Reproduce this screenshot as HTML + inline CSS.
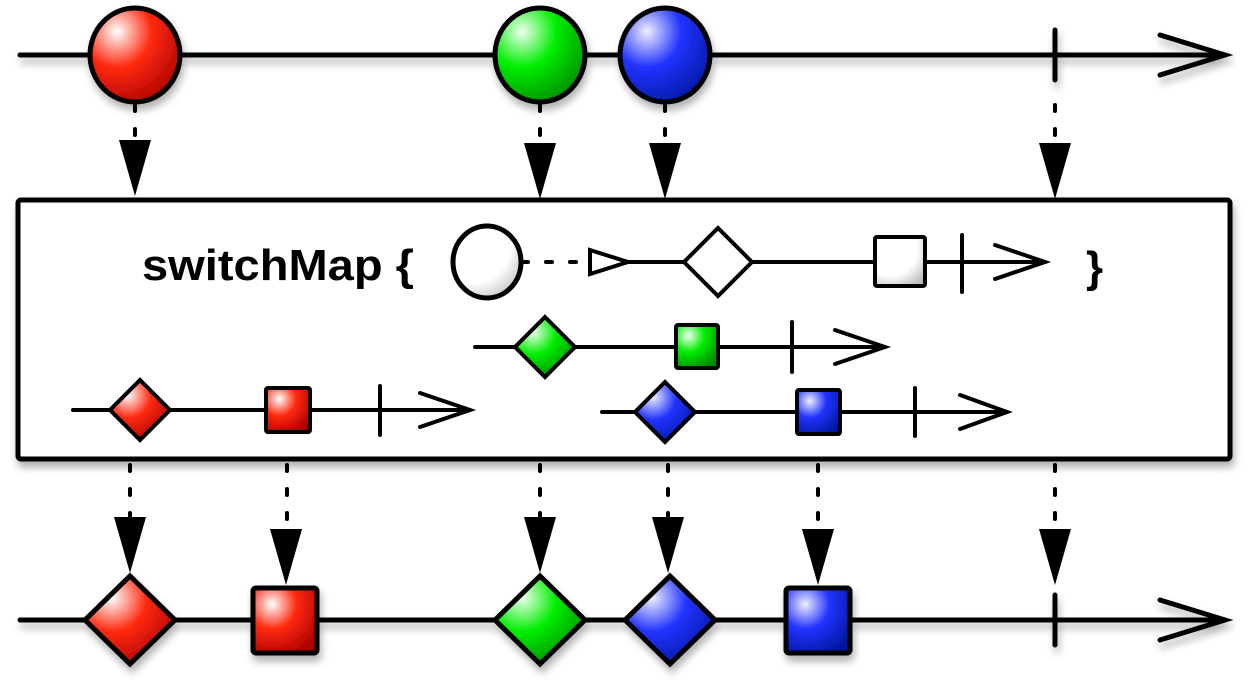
<!DOCTYPE html>
<html><head><meta charset="utf-8"><style>html,body{margin:0;padding:0;background:#fff}svg{display:block}</style></head><body>
<svg width="1249" height="688" viewBox="0 0 1249 688" xmlns="http://www.w3.org/2000/svg">
<defs>
<radialGradient id="r" cx="0.3" cy="0.25" r="0.85"><stop offset="0" stop-color="#fff"/><stop offset="0.45" stop-color="#ff2a10"/><stop offset="1" stop-color="#a00"/></radialGradient>
<radialGradient id="g" cx="0.3" cy="0.25" r="0.85"><stop offset="0" stop-color="#efe"/><stop offset="0.45" stop-color="#0e0"/><stop offset="1" stop-color="#080"/></radialGradient>
<radialGradient id="b" cx="0.3" cy="0.25" r="0.85"><stop offset="0" stop-color="#eef"/><stop offset="0.45" stop-color="#2233ff"/><stop offset="1" stop-color="#0018a0"/></radialGradient>
<radialGradient id="w" cx="0.3" cy="0.25" r="0.9"><stop offset="0" stop-color="#fff"/><stop offset="0.6" stop-color="#fff"/><stop offset="1" stop-color="#bbb"/></radialGradient>
<filter id="sh" x="-10%" y="-10%" width="120%" height="130%"><feDropShadow dx="2" dy="6" stdDeviation="4" flood-color="#000" flood-opacity="0.3"/></filter>
</defs>
<g stroke="#000" stroke-linecap="round" fill="none">
<g filter="url(#sh)">
<line x1="20" y1="55" x2="1225" y2="55" stroke-width="5"/>
<polyline points="1160,35 1225,55 1160,75" stroke-width="5"/>
<line x1="1055" y1="30" x2="1055" y2="80" stroke-width="5"/>
<ellipse cx="135" cy="55" rx="45" ry="47" fill="url(#r)" stroke-width="5"/>
<ellipse cx="540" cy="55" rx="45" ry="47" fill="url(#g)" stroke-width="5"/>
<ellipse cx="665" cy="55" rx="45" ry="47" fill="url(#b)" stroke-width="5"/>
</g>
<g stroke-width="4" stroke-dasharray="6,18">
<line x1="135" y1="105" x2="135" y2="140"/>
<line x1="540" y1="105" x2="540" y2="140"/>
<line x1="665" y1="105" x2="665" y2="140"/>
<line x1="1055" y1="105" x2="1055" y2="140"/>
</g>
<g fill="#000" stroke="none">
<polygon points="119,140 151,140 135,196"/>
<polygon points="524,143 556,143 540,199"/>
<polygon points="649,143 681,143 665,199"/>
<polygon points="1039,143 1071,143 1055,199"/>
</g>
<rect x="18" y="200" width="1212" height="259" rx="3" fill="#fff" stroke-width="5" filter="url(#sh)"/>
<ellipse cx="487" cy="262" rx="34" ry="36" fill="url(#w)" stroke-width="5"/>
<line x1="522" y1="262" x2="590" y2="262" stroke-width="4" stroke-dasharray="6,18"/>
<polygon points="590,250 628,262 590,274" stroke-width="4" fill="#fff"/>
<line x1="628" y1="262" x2="1045" y2="262" stroke-width="4"/>
<polyline points="995,245 1045,262 995,279" stroke-width="4"/>
<line x1="962" y1="235" x2="962" y2="292" stroke-width="4"/>
<polygon points="718,228 752,262 718,296 684,262" fill="#fff" stroke-width="4"/>
<rect x="875" y="237" width="50" height="49" rx="2" fill="url(#w)" stroke-width="4"/>
<line x1="475" y1="347" x2="885" y2="347" stroke-width="4"/>
<polyline points="835,330 885,347 835,364" stroke-width="4"/>
<line x1="792" y1="322" x2="792" y2="372" stroke-width="4"/>
<polygon points="545,317 575,347 545,377 515,347" fill="url(#g)" stroke-width="4"/>
<rect x="676" y="325" width="42" height="43" rx="2" fill="url(#g)" stroke-width="4"/>
<line x1="73" y1="410" x2="470" y2="410" stroke-width="4"/>
<polyline points="420,393 470,410 420,427" stroke-width="4"/>
<line x1="380" y1="386" x2="380" y2="435" stroke-width="4"/>
<polygon points="140,380 170,410 140,440 110,410" fill="url(#r)" stroke-width="4"/>
<rect x="266" y="388" width="44" height="44" rx="2" fill="url(#r)" stroke-width="4"/>
<line x1="602" y1="412" x2="1007" y2="412" stroke-width="4"/>
<polyline points="960,395 1007,412 960,429" stroke-width="4"/>
<line x1="915" y1="388" x2="915" y2="436" stroke-width="4"/>
<polygon points="665,382 695,412 665,442 635,412" fill="url(#b)" stroke-width="4"/>
<rect x="797" y="390" width="43" height="44" rx="2" fill="url(#b)" stroke-width="4"/>
<g stroke-width="4" stroke-dasharray="6,18">
<line x1="130" y1="465" x2="130" y2="518"/>
<line x1="287" y1="465" x2="287" y2="530"/>
<line x1="540" y1="465" x2="540" y2="518"/>
<line x1="668" y1="465" x2="668" y2="518"/>
<line x1="818" y1="465" x2="818" y2="530"/>
<line x1="1055" y1="465" x2="1055" y2="530"/>
</g>
<g fill="#000" stroke="none">
<polygon points="114,517 146,517 130,573"/>
<polygon points="270,529 302,529 286,585"/>
<polygon points="524,517 556,517 540,573"/>
<polygon points="652,517 684,517 668,573"/>
<polygon points="802,529 834,529 818,585"/>
<polygon points="1039,529 1071,529 1055,585"/>
</g>
<g filter="url(#sh)">
<line x1="20" y1="620" x2="1225" y2="620" stroke-width="5"/>
<polyline points="1160,600 1225,620 1160,640" stroke-width="5"/>
<line x1="1055" y1="595" x2="1055" y2="645" stroke-width="5"/>
<polygon points="130,576 175,620 130,664 85,620" fill="url(#r)" stroke-width="5"/>
<rect x="253" y="588" width="64" height="65" rx="3" fill="url(#r)" stroke-width="5"/>
<polygon points="540,576 585,620 540,664 495,620" fill="url(#g)" stroke-width="5"/>
<polygon points="670,576 715,620 670,664 625,620" fill="url(#b)" stroke-width="5"/>
<rect x="786" y="588" width="64" height="65" rx="3" fill="url(#b)" stroke-width="5"/>
</g>
</g>
<text x="142" y="280" font-family="Liberation Sans, sans-serif" font-weight="bold" font-size="44" fill="#000" textLength="272" lengthAdjust="spacingAndGlyphs">switchMap {</text>
<text x="1086" y="282" font-family="Liberation Sans, sans-serif" font-weight="bold" font-size="44" fill="#000">}</text>
</svg>
</body></html>
